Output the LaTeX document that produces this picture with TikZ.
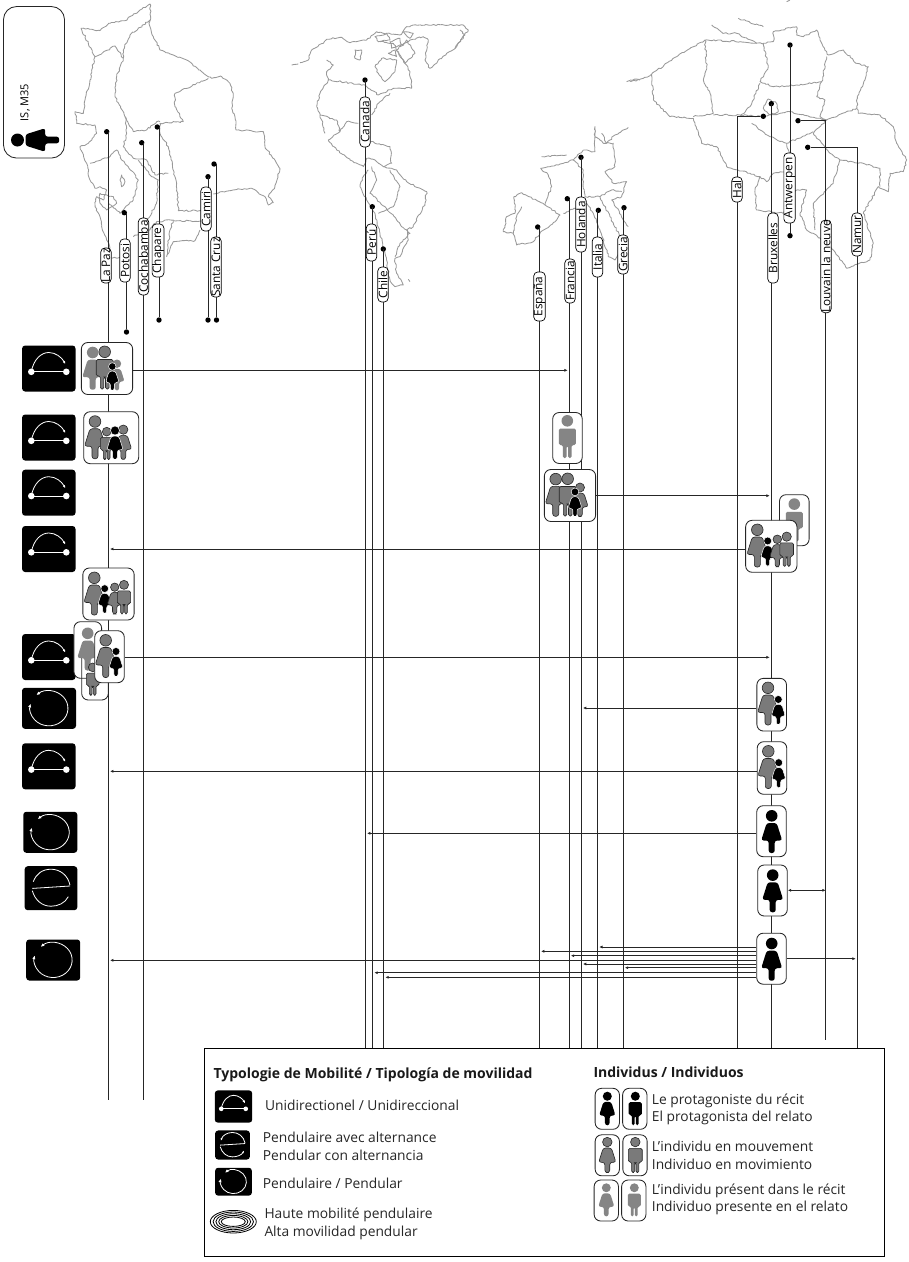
\documentclass[tikz,border=0pt]{standalone}
\usepackage{fontspec}
\setsansfont{Open Sans}
\usetikzlibrary{arrows.meta, decorations.pathmorphing}

\begin{document}
\begin{tikzpicture}[
    x=1pt, y=-1pt,
    font=\sffamily,
    border/.style={draw=black!40, line width=0.85pt, line join=round,
        decorate, decoration={random steps, segment length=2.2pt, amplitude=0.8pt}},
    route/.style={draw=black!85, line width=1pt},
    flow/.style={-{Latex[length=3.4pt, width=3pt]}, draw=black!85, line width=0.9pt, shorten >=1.5pt},
    flowtwo/.style={{Latex[length=3.4pt, width=3pt]}-{Latex[length=3.4pt, width=3pt]}, draw=black!85, line width=0.9pt},
    dot/.style={circle, fill=black, inner sep=0pt, minimum size=5.4pt},
    pill/.style={draw=black, fill=white, rounded corners=4pt, rotate=90, inner sep=0pt,
        minimum height=10.4pt, line width=0.7pt, font=\sffamily\fontsize{11.8}{12}\selectfont},
    solo/.style={draw=black!85, fill=white, rounded corners=6.5pt, line width=0.85pt,
        minimum width=29.6pt, minimum height=51pt, inner sep=0pt},
    family/.style={solo, minimum width=51.3pt, minimum height=52pt},
    smallcard/.style={solo, minimum width=24.3pt, minimum height=41pt},
    legtext/.style={anchor=west, align=left, text=black!85, inner sep=0pt,
        font=\sffamily\fontsize{13.8}{17.6}\selectfont},
    legtitle/.style={anchor=west, inner sep=0pt, text=black!90,
        font=\sffamily\bfseries\fontsize{14}{16}\selectfont},
    figblack/.style={fill=black},
    figmove/.style={fill=black!52, draw=black!85, line width=0.6pt},
    figpres/.style={fill=black!48},
    figkid/.style={fill=black, draw=white, line width=0.5pt},
    woman/.pic={
        \path[#1] (0,5.8) circle[radius=5.8];
        \path[#1, rounded corners=2.5pt] (-5,13) -- (5,13) -- (10.5,30.5) -- (3,30.5) -- (3,43)
            -- (-3,43) -- (-3,30.5) -- (-10.5,30.5) -- cycle;
    },
    man/.pic={
        \path[#1] (0,5.8) circle[radius=5.8];
        \path[#1, rounded corners=1.5pt] (-8.5,13.5) -- (8.5,13.5) -- (8.5,30) -- (4.4,30) -- (4.4,43) -- (0.8,43)
            -- (0.8,31) -- (-0.8,31) -- (-0.8,43) -- (-4.4,43) -- (-4.4,30) -- (-8.5,30) -- cycle;
    },
    arcicon/.pic={
        \fill[black, rounded corners=3pt] (-26.7,-23) rectangle (26.7,23);
        \draw[white, line width=0.9pt] (-17.5,3.3) -- (17.5,3.3);
        \fill[white] (-17.5,3.3) circle[radius=3.3] (17.5,3.3) circle[radius=3.3];
        \draw[white, line width=0.8pt, -{Latex[length=3pt, width=2.6pt]}] (-17.5,3.3)
            .. controls (-15,-10) and (-7,-16) .. (0,-16) .. controls (7,-16) and (13,-11) .. (16.5,-4.5);
    },
    roundicon/.pic={
        \fill[black, rounded corners=3pt] (-27,-20.5) rectangle (27,20.5);
        \draw[white, line width=0.8pt, {Latex[length=3.6pt, width=3.2pt]}-{Latex[length=3.6pt, width=3.2pt]}]
            (-12.5,-13.2) arc[start angle=-131, end angle=195, x radius=19, y radius=17.5];
    },
    altericon/.pic={
        \fill[black, rounded corners=3pt] (-26.3,-22) rectangle (26.3,22);
        \draw[white, line width=0.8pt] (-18.7,0.2) -- (19,-2.2);
        \draw[white, line width=0.8pt, #1] (19,-3) .. controls (17,-13) and (9,-19) .. (0,-19)
            .. controls (-9,-19) and (-15,-14) .. (-17.7,-6.5);
        \draw[white, line width=0.8pt, #1] (-18.7,2.5) .. controls (-16,12) and (-9,18) .. (0,18)
            .. controls (7,18) and (14,15) .. (17.3,8.5);
    },
]

\useasboundingbox (0,0) rectangle (909,1262);

% maps
\begin{scope}[x=0.3333pt, y=-0.3333pt]
\draw[border] (243,85) -- (300,92) -- (330,70) -- (375,62) -- (420,30) -- (450,12) -- (452,50) -- (447,70) -- (460,110) -- (480,150) -- (520,165) -- (560,180) -- (600,210) -- (635,235) -- (665,230) -- (690,250) -- (700,290) -- (695,325) -- (705,350) -- (708,390) -- (790,395) -- (795,440) -- (830,490) -- (840,505) -- (825,560) -- (805,590) -- (820,608) -- (805,615) -- (795,590) -- (755,565) -- (700,570) -- (640,582);
\draw[border] (243,85) -- (285,170) -- (275,210) -- (270,240) -- (255,300) -- (250,340) -- (225,335) -- (230,370) -- (285,375) -- (290,400) -- (265,430) -- (240,440) -- (260,490) -- (270,540) -- (285,565) -- (300,560) -- (320,570) -- (310,600) -- (290,590) -- (285,620) -- (300,650) -- (305,680) -- (320,720) -- (330,745);
\draw[border] (335,775) -- (365,770);
\draw[border] (400,710) -- (450,690) -- (470,665) -- (520,660) -- (510,690) -- (500,770) -- (520,725) -- (585,722) -- (600,690);
\draw[border] (520,662) -- (604,663);
\draw[border] (604,632) -- (535,632) -- (530,550) -- (525,530) -- (505,440) -- (480,400) -- (480,370) -- (550,365) -- (525,320) -- (525,280) -- (625,235);
\draw[border] (285,170) -- (345,138) -- (370,175) -- (350,230) -- (345,290) -- (375,350) -- (400,395) -- (440,390) -- (470,365) -- (480,365);
\draw[border] (450,60) -- (390,105) -- (370,150) -- (370,175);
\draw[border] (375,350) -- (380,400) -- (370,440) -- (400,475) -- (440,480) -- (465,525) -- (505,520);
\draw[border] (270,490) -- (330,470) -- (350,450) -- (365,480) -- (385,500) -- (415,540) -- (400,600) -- (360,640) -- (325,610);
\draw[border] (415,480) -- (455,530) -- (475,540) -- (470,610) -- (430,680);
\draw[border] (365,525) -- (375,545) -- (365,560) -- (360,540) -- cycle;
\draw[border] (300,580) -- (340,590) -- (350,610) -- (320,630) -- (300,610) -- cycle;
\draw[border] (875,195) -- (895,192);
\end{scope}

\begin{scope}[shift={(300,0)}, x=0.3333pt, y=-0.3333pt]
\draw[border] (0,188) -- (25,180) -- (35,150) -- (70,130) -- (80,118) -- (120,112) -- (150,128) -- (200,120) -- (230,95) -- (260,100) -- (300,105) -- (320,80) -- (340,75) -- (490,75) -- (505,90) -- (470,140) -- (440,160) -- (390,205) -- (375,180) -- (385,120) -- (370,110) -- (330,120) -- (300,140);
\draw[border] (80,180) -- (100,195) -- (80,215) -- (85,240) -- (60,280) -- (50,320) -- (65,360) -- (75,400);
\draw[border] (60,345) -- (110,360) -- (120,395) -- (140,365) -- (175,370);
\draw[border] (85,240) -- (195,255) -- (235,285) -- (280,265) -- (335,265) -- (330,215) -- (305,175) -- (280,130) -- (240,125);
\draw[border] (165,150) -- (185,150) -- (180,180) -- (165,175) -- cycle;
\draw[border] (225,200) -- (245,175) -- (290,180) -- (285,215) -- (255,245) -- (235,220) -- cycle;
\draw[border] (320,120) -- (345,160) -- (315,190) -- (290,150) -- cycle;
\draw[border] (225,110) -- (260,100) -- (270,120) -- (235,125) -- cycle;
\draw[border] (270,125) -- (300,115) -- (305,135) -- (275,145) -- cycle;
\draw[border] (265,160) -- (285,150) -- (290,170) -- cycle;
\draw[border] (310,95) -- (340,100) -- (330,115) -- cycle;
\draw[border] (465,145) -- (495,105) -- (480,90);
\draw[border] (270,280) -- (235,310) -- (215,345);
\draw[border] (120,395) -- (85,420) -- (110,450) -- (150,480) -- (190,500) -- (200,475) -- (225,480) -- (250,500) -- (290,510) -- (320,545) -- (380,575) -- (375,610) -- (340,680) -- (320,690) -- (325,720) -- (300,770) -- (285,775) -- (290,820) -- (310,855) -- (285,860) -- (270,840) -- (255,760) -- (240,700) -- (225,640) -- (200,600) -- (180,560) -- (190,530) -- (205,510);
\draw[border] (212,425) -- (270,440) -- (275,490) -- (250,500);
\draw[border] (215,500) -- (230,540) -- (210,580) -- (255,620) -- (290,660) -- (305,680) -- (330,700) -- (300,730) -- (285,770);
\draw[border] (235,640) -- (280,620) -- (300,560) -- (270,510);
\draw[border] (325,838) -- (330,845);
\draw[border] (610,695) -- (620,650) -- (645,640) -- (642,590) -- (665,578) -- (735,615) -- (780,645) -- (770,660) -- (720,700) -- (700,725) -- (650,735) -- (640,700) -- cycle;
\draw[border] (665,620) -- (650,650) -- (640,700);
\draw[border] (735,615) -- (755,560) -- (745,525) -- (722,505) -- (750,500) -- (790,490) -- (820,480) -- (850,450);
\draw[border] (725,470) -- (800,465);
\draw[border] (820,480) -- (850,510) -- (850,565) -- (855,590) -- (900,590) -- (930,650) -- (970,730) -- (945,780) -- (925,770) -- (900,690) -- (880,640) -- (860,610) -- (790,640);
\draw[border] (850,450) -- (885,455) -- (885,380) -- (885,410) -- (910,430) -- (940,430) -- (945,500) -- (915,515) -- (940,550) -- (980,545) -- (965,590) -- (935,600) -- (985,680);
\draw[border] (900,590) -- (935,570) -- (965,575);
\draw[border] (905,400) -- (920,430) -- (945,405) -- (985,382);
\draw[border] (980,245) -- (1020,240);
\end{scope}

\begin{scope}[shift={(630,0)}, x=0.3333pt, y=-0.3333pt]
\draw[border] (0,240) -- (40,235) -- (65,222) -- (140,170) -- (225,120) -- (330,125) -- (400,130) -- (430,125) -- (430,95) -- (500,80) -- (500,105) -- (520,110) -- (560,90) -- (570,120) -- (590,155) -- (595,165) -- (640,150) -- (680,190) -- (715,200) -- (705,240) -- (680,300) -- (685,340) -- (750,345) -- (790,380) -- (800,430) -- (830,480) -- (820,515) -- (780,520) -- (775,575) -- (745,560) -- (700,640) -- (730,730) -- (720,780) -- (650,805) -- (610,750) -- (550,700) -- (530,690) -- (510,640) -- (530,570) -- (500,570) -- (470,600) -- (460,640) -- (380,630) -- (375,570) -- (390,530) -- (360,520) -- (290,500) -- (260,440) -- (215,430) -- (190,355) -- (120,350) -- (70,300) -- (65,222);
\draw[border] (225,120) -- (230,200) -- (220,240) -- (240,280) -- (250,340) -- (190,350);
\draw[border] (250,345) -- (330,345) -- (400,350) -- (450,340) -- (480,335) -- (590,360) -- (680,325);
\draw[border] (400,130) -- (415,200) -- (390,245) -- (430,260) -- (500,255) -- (575,245) -- (590,170);
\draw[border] (390,250) -- (360,320) -- (330,350);
\draw[border] (575,245) -- (560,290) -- (585,300) -- (570,350) -- (590,360) -- (550,400) -- (600,460) -- (630,480) -- (700,490) -- (750,505) -- (750,560);
\draw[border] (365,370) -- (420,410) -- (470,430) -- (550,395);
\draw[border] (470,430) -- (490,510) -- (430,520) -- (410,545) -- (390,530);
\draw[border] (400,325) -- (415,297) -- (440,310) -- (445,335) -- (420,345) -- cycle;
\draw[border] (245,75) -- (280,100) -- (320,100) -- (380,130);
\draw[border] (325,55) -- (400,80);
\draw[border] (630,480) -- (610,550) -- (550,610) -- (555,690);
\draw[border] (470,5) -- (480,0);
\end{scope}

% sites
\foreach \name/\dx/\dy/\ex/\ey in {
    LaPaz/106.7/131.7/108.5/1100, Cochabamba/141.7/142.7/143.5/1100,
    Canada/365/80/365.5/1048, Peru/372.3/206.7/372.8/1048, Chile/383.3/249/383.8/1048,
    Espana/537.7/227/539.5/1048, Francia/567.3/198.7/569.3/1048, Holanda/581/157.3/581.4/1048,
    Italia/598.3/210.3/597.6/1048, Grecia/624/207.7/623.3/1048, Bruxelles/771.3/103.7/771.3/1048} {
    \node[dot] (d\name) at (\dx,\dy) {};
    \coordinate (e\name) at (\ex,\ey);
    \draw[route] (d\name -| e\name) -- (e\name);
}
\foreach \name/\dx/\dy/\ex/\ey in {
    Potosi/124.3/212.7/126.5/332, Chapare/157.3/127/159/320, Camiri/208/176.7/208/320,
    SantaCruz/214/164/216.5/320, Antwerpen/790/45/790/235.7} {
    \node[dot] (d\name) at (\dx,\dy) {};
    \node[dot] (e\name) at (\ex,\ey) {};
    \draw[route] (d\name -| e\name) -- (e\name);
}
\node[dot] (dHal) at (763.3,116.3) {};
\coordinate (eHal) at (737.8,1048);
\draw[route] (dHal) -| (eHal);
\node[dot] (dLouvain) at (798,120.7) {};
\coordinate (eLouvain) at (825.7,1040);
\draw[route] (dLouvain) -| (eLouvain);
\node[dot] (dNamur) at (807.7,147.3) {};
\coordinate (eNamur) at (857.3,1048);
\draw[route] (dNamur) -| (eNamur);

\foreach \name/\lab/\x/\y/\w in {
    LaPaz/La Paz/106/265.5/35, Potosi/Potosi/125/260.5/43, Cochabamba/Cochabamba/143.5/256.5/77,
    Chapare/Chapare/158/250.5/53, Camiri/Camiri/206/209/44, SantaCruz/Santa Cruz/216/267/60,
    Canada/Canada/365/122/50, Peru/Per\'u/371.5/242.5/37, Chile/Chile/383/284.5/35,
    Espana/Espa\~na/539.5/296.5/49, Francia/Francia/570/281/44, Holanda/Holanda/581/224.5/55,
    Italia/Italia/597.5/257/40, Grecia/Grecia/623/254.5/39, Hal/Hal/737/189.5/25,
    Bruxelles/Bruxelles/773/248/70, Antwerpen/Antwerpen/789.5/188/70,
    Louvain/Louvain la neuve/826/266.5/92, Namur/Namur/857/234.5/43} {
    \node[pill, minimum width=\w] (p\name) at (\x,\y) {\lab};
}

% narrator
\node[solo, rounded corners=13pt, minimum width=61pt, minimum height=151.5pt] (narrator) at (34,82.3) {};
\node[rotate=90, inner sep=0pt, font=\sffamily\fontsize{11}{11}\selectfont] (narratorid) at (25,102.5) {IS, M35};
\pic[rotate=90, scale=1.12] at (11,140) {woman=figblack};

% mobility icons
\pic at (48.8,368.5) {arcicon};
\pic at (48.8,437.5) {arcicon};
\pic at (48.8,492.7) {arcicon};
\pic at (48.8,549) {arcicon};
\pic at (48.8,657) {arcicon};
\pic at (49,708.3) {roundicon};
\pic at (48.8,766.3) {arcicon};
\pic at (50.3,832.3) {roundicon};
\pic at (51,888.2) {altericon=-};
\pic at (53.2,960) {roundicon};

% people
\node[family] (fOne) at (107,368.5) {};
\pic at (92.7,346.7) {woman=figpres};
\pic at (104.7,346) {man=figmove};
\pic[scale=.72] at (117,359.5) {woman=figpres};
\pic[scale=.65] at (112.3,362.7) {woman=figkid};

\node[family, minimum width=55pt] (fTwo) at (111.2,437.7) {};
\pic at (95,415.7) {woman=figmove};
\pic[scale=.75] at (106.7,427.3) {man=figmove};
\pic[scale=.8] at (123.3,425) {woman=figmove};
\pic[scale=.78] at (115,426) {woman=figkid};

\node[solo] (fThree) at (567.5,438) {};
\pic at (567.3,415) {man=figpres};

\node[family] (fFour) at (570,495.5) {};
\pic at (555.7,473.3) {woman=figmove};
\pic at (567.7,473) {man=figmove};
\pic[scale=.78] at (580,483) {woman=figmove};
\pic[scale=.67] at (575,488) {woman=figkid};

\node[solo] (fFive) at (794.3,520.2) {};
\pic at (794.3,498.3) {man=figpres};

\node[family] (fSix) at (771.3,546.3) {};
\pic at (757.3,524) {woman=figmove};
\pic[scale=.68] at (767.7,537) {woman=figkid};
\pic[scale=.74] at (777.3,535) {woman=figmove};
\pic[scale=.8] at (786.7,532) {man=figmove};

\node[family] (fSeven) at (108.5,594) {};
\pic at (94.3,572) {woman=figmove};
\pic[scale=.67] at (104.7,584.7) {woman=figkid};
\pic[scale=.72] at (114.7,583) {woman=figmove};
\pic[scale=.78] at (124,580.3) {man=figmove};

\node[solo, minimum width=27.7pt, minimum height=56.6pt] (fEight) at (87.8,650) {};
\pic at (87.7,627.5) {woman=figpres};
\draw[solo, fill=none] (81.7,658) -- (81.7,700) -- (108.3,700) -- (108.3,680);
\pic[scale=.75] at (92.7,663) {man=figmove};

\node[solo, minimum height=52pt] (fNine) at (109.5,656.7) {};
\pic at (105.7,634.5) {woman=figmove};
\pic[scale=.68] at (116,647.5) {woman=figkid};

\node[solo, minimum height=52.7pt] (fTen) at (771.7,704.7) {};
\pic at (768,682) {woman=figmove};
\pic[scale=.68] at (778.3,695.5) {woman=figkid};

\node[solo, minimum height=52.6pt] (fEleven) at (772,768) {};
\pic at (768.3,745.5) {woman=figmove};
\pic[scale=.68] at (778.7,758.7) {woman=figkid};

\node[solo] (fTwelve) at (771.5,831.2) {};
\pic at (771.7,810) {woman=figblack};

\node[solo] (fThirteen) at (772.5,890.5) {};
\pic at (772.7,869.3) {woman=figblack};

\node[solo] (fFourteen) at (771.5,958.7) {};
\pic at (771.7,937.7) {woman=figblack};

% moves
\draw[flow] (fOne.east |- 0,370.3) -- (eFrancia |- 0,370.3);
\draw[flow] (fFour.east |- 0,495.7) -- (eBruxelles |- 0,495.7);
\draw[flow] (fSix.west |- 0,549) -- (eLaPaz |- 0,549);
\draw[flow] (fNine.east |- 0,657.3) -- (eBruxelles |- 0,657.3);
\draw[flow] (fTen.west |- 0,708) -- (eHolanda |- 0,708);
\draw[flow] (fEleven.west |- 0,771.3) -- (eLaPaz |- 0,771.3);
\draw[flow] (fTwelve.west |- 0,833.3) -- (eCanada |- 0,833.3);
\draw[flowtwo] (fThirteen.east |- 0,890.3) -- (eLouvain |- 0,890.3);
\draw[flow] (fFourteen.east |- 0,958.7) -- (eNamur |- 0,958.7);
\draw[flow] (fFourteen.west |- 0,947) -- (eItalia |- 0,947);
\draw[flow] (fFourteen.west |- 0,951.3) -- (eEspana |- 0,951.3);
\draw[flow] (fFourteen.west |- 0,955.7) -- (eFrancia |- 0,955.7);
\draw[flow] (fFourteen.west |- 0,960.3) -- (eLaPaz |- 0,960.3);
\draw[flow] (fFourteen.west |- 0,964) -- (eHolanda |- 0,964);
\draw[flow] (fFourteen.west |- 0,967.7) -- (eGrecia |- 0,967.7);
\draw[flow] (fFourteen.west |- 0,972.7) -- (ePeru |- 0,972.7);
\draw[flow] (fFourteen.west |- 0,977.3) -- (eChile |- 0,977.3);

% legend
\node[draw=black, fill=white, line width=0.9pt, minimum width=680pt, minimum height=207.5pt, inner sep=0pt] (legend) at (544,1152.2) {};

\node[legtitle] (titleMob) at (213.3,1075) {Typologie de Mobilit\'e / Tipolog\'ia de movilidad};
\pic[scale=.7] at (233.5,1106.5) {arcicon};
\node[legtext] (textUni) at (265,1105) {Unidirectionel / Unidireccional};
\pic[scale=.66] at (232.5,1145) {altericon={-{Latex[length=2.5pt, width=2.2pt]}}};
\node[legtext] (textAlt) at (262.7,1146.3) {Pendulaire avec alternance\\Pendular con alternancia};
\pic[scale=.68] at (233.5,1181.7) {roundicon};
\node[legtext] (textPen) at (262.7,1183) {Pendulaire / Pendular};
\foreach \rx/\ry in {23/11.3, 20.2/9.7, 17.4/8, 14.6/6.3, 12/4.7} {
    \draw[line width=0.8pt] (233.3,1221.7) ellipse[x radius=\rx, y radius=\ry];
}
\node[legtext] (textHaute) at (264.3,1224) {Haute mobilit\'e pendulaire\\Alta movilidad pendular};

\node[legtitle] (titleInd) at (593.3,1072.3) {Individus / Individuos};
\node[smallcard] (cardA) at (607.3,1108.8) {};
\node[smallcard] (cardB) at (634.8,1108.8) {};
\pic[scale=.78] at (607.3,1091.7) {woman=figblack};
\pic[scale=.78] at (635.3,1091.7) {man=figblack};
\node[legtext] (textPro) at (651.7,1109.5) {Le protagoniste du r\'ecit\\El protagonista del relato};
\node[smallcard] (cardC) at (607.3,1155.3) {};
\node[smallcard] (cardD) at (635,1155.3) {};
\pic[scale=.82] at (607.3,1137.3) {woman=figmove};
\pic[scale=.82] at (635.3,1137.3) {man=figmove};
\node[legtext] (textMov) at (651.7,1155.3) {L’individu en mouvement\\Individuo en movimiento};
\node[smallcard] (cardE) at (606.3,1200.5) {};
\node[smallcard] (cardF) at (633.8,1200.5) {};
\pic[scale=.77] at (606.3,1183.3) {woman=figpres};
\pic[scale=.77] at (634.3,1183.3) {man=figpres};
\node[legtext] (textPre) at (651.7,1199.5) {L’individu pr\'esent dans le r\'ecit\\Individuo presente en el relato};

\end{tikzpicture}
\end{document}
